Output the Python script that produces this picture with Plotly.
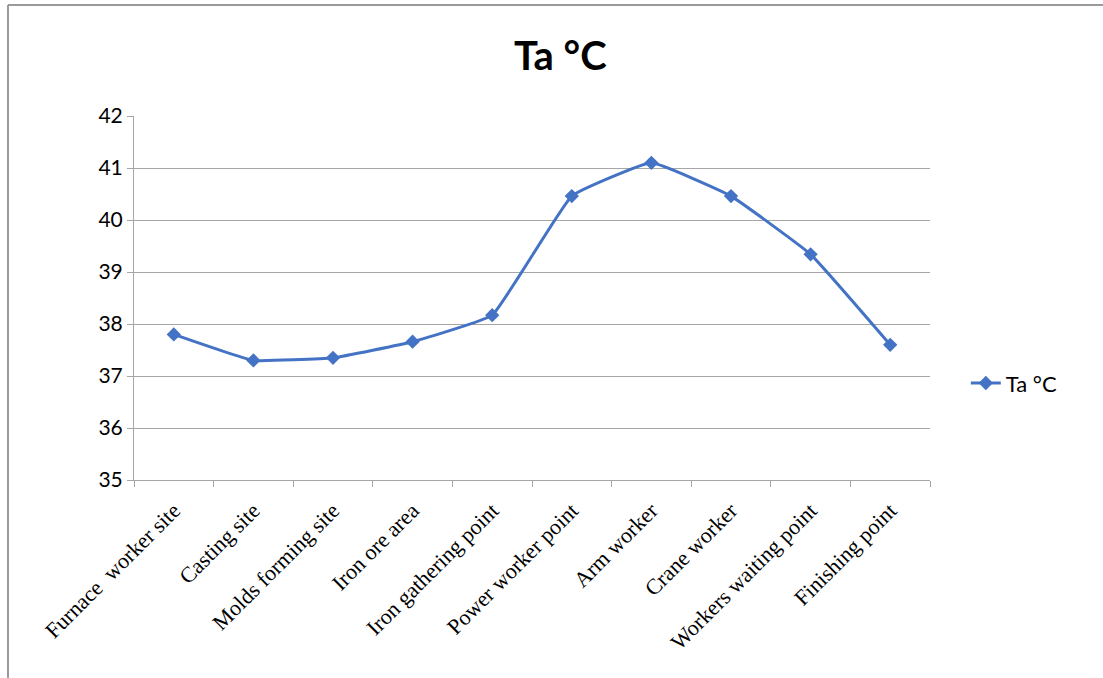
import plotly.graph_objects as go

categories = ["Furnace  worker site", "Casting site", "Molds forming site", "Iron ore area",
              "Iron gathering point", "Power worker point", "Arm worker", "Crane worker",
              "Workers waiting point", "Finishing point"]
ta_values = [37.8, 37.3, 37.35, 37.66, 38.17, 40.46, 41.1, 40.46, 39.34, 37.6]
y_ticks = [35, 36, 37, 38, 39, 40, 41, 42]

fig = go.Figure()
fig.add_trace(go.Scatter(
    x=categories, y=ta_values, name="Ta °C", mode="lines+markers",
    line=dict(color="#4472C4", width=3, shape="spline", smoothing=0.3),
    marker=dict(symbol="diamond", size=11, color="#4472C4"),
))

fig.update_layout(
    width=1103, height=678,
    margin=dict(l=134, r=173, t=116, b=198),
    paper_bgcolor="white", plot_bgcolor="white",
    title=dict(text="<b>Ta °C</b>", x=0.508, xanchor="center", y=0.917, yanchor="middle",
               font=dict(family="Lato, Noto Sans, sans-serif", size=40, color="black")),
    showlegend=True,
    legend=dict(x=1.045, y=0.266, xanchor="left", yanchor="middle",
                font=dict(family="Lato, Noto Sans, sans-serif", size=22, color="black"),
                bgcolor="rgba(0,0,0,0)"),
    xaxis=dict(
        type="category", tickangle=-45, tickson="boundaries",
        ticks="outside", ticklen=6, tickcolor="#A6A6A6",
        showline=True, linecolor="#A6A6A6", linewidth=1,
        showgrid=False, ticklabelstandoff=8,
        tickfont=dict(family="Liberation Serif, Times New Roman, serif", size=22, color="black"),
        range=[-0.5, len(categories) - 0.5],
    ),
    yaxis=dict(
        range=[35, 42], tickvals=y_ticks,
        ticks="outside", ticklen=6, tickcolor="#A6A6A6",
        showline=True, linecolor="#A6A6A6", linewidth=1,
        showgrid=True, gridcolor="#A6A6A6", gridwidth=1,
        zeroline=False,
        tickfont=dict(family="Lato, Noto Sans, sans-serif", size=21, color="black"),
    ),
)

# outer chart frame (top and left edges visible in reference)
fig.add_shape(type="line", xref="paper", yref="paper", x0=-0.1583, x1=1.22, y0=1.305, y1=1.305,
              line=dict(color="#9A9A9A", width=2))
fig.add_shape(type="line", xref="paper", yref="paper", x0=-0.1583, x1=-0.1583, y0=1.305, y1=-0.55,
              line=dict(color="#9A9A9A", width=2))

fig.write_html("out.html", config={"displayModeBar": False},
               post_script="document.body.style.margin='0';")
